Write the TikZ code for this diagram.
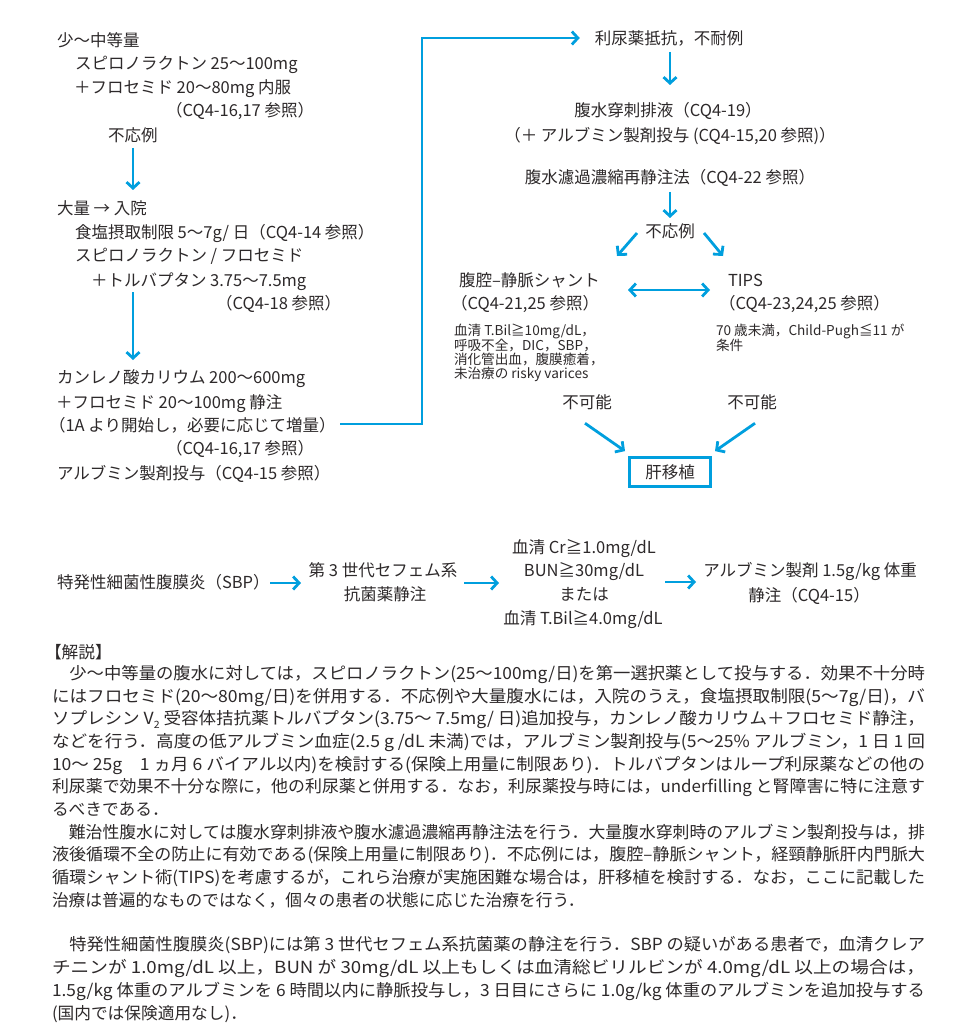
\documentclass[tikz,border=0pt]{standalone}
\usepackage{fontspec}
\setmainfont{Noto Sans CJK JP}
\usepackage{graphicx}
\usetikzlibrary{arrows.meta}
\definecolor{fcblue}{RGB}{0,159,222}
\definecolor{ink}{RGB}{45,41,42}
\newcommand\fmain{\fontsize{16.5}{22}\selectfont}
\newcommand\fsml{\fontsize{13.6}{14.5}\selectfont}
\newcommand\fexp{\fontsize{16.7}{22.7}\selectfont}
\newcommand\jline[1]{\resizebox{873pt}{\height}{#1}}
\newcommand\subtwo{\raisebox{-0.25em}{\fontsize{10}{10}\selectfont 2}}
\tikzset{
  txt/.style={inner sep=0pt, outer sep=0pt, text=ink, font=\fmain, text height=14.5pt, text depth=2pt},
  sml/.style={inner sep=0pt, outer sep=0pt, text=ink, font=\fsml, text height=12pt, text depth=1.6pt},
  exl/.style={inner sep=0pt, outer sep=0pt, text=ink, font=\fexp, text height=14.7pt, text depth=2pt, anchor=west},
  arr/.style={draw=fcblue, line width=2.8pt, -{Straight Barb[length=6pt,width=13pt]}},
  darr/.style={draw=fcblue, line width=2.8pt, {Straight Barb[length=6pt,width=13pt]}-{Straight Barb[length=6pt,width=13pt]}},
  conn/.style={draw=fcblue, line width=2.8pt},
  endbox/.style={draw=fcblue, line width=2.8pt, inner sep=0pt, minimum width=81pt, minimum height=29pt, text=ink, font=\fmain}
}
\begin{document}
\begin{tikzpicture}[x=1pt,y=-1pt]
\fill[white] (0,0) rectangle (963,1024);
\useasboundingbox (0,0) rectangle (963,1024);

% ---------- left column ----------
\node[txt,anchor=west] (a1) at (57,40) {少～中等量};
\node[txt,anchor=west] (a2) at (75,63) {スピロノラクトン 25～100mg};
\node[txt,anchor=west] (a3) at (74,87) {＋フロセミド 20～80mg 内服};
\node[txt,anchor=west] (a4) at (166,110) {（CQ4-16,17 参照）};
\node[txt,anchor=west] (a5) at (108,135) {不応例};

\node[txt,anchor=west] (b1) at (57,208) {大量 → 入院};
\node[txt,anchor=west] (b2) at (75,232) {食塩摂取制限 5～7g/ 日（CQ4-14 参照）};
\node[txt,anchor=west] (b3) at (75,255) {スピロノラクトン / フロセミド};
\node[txt,anchor=west] (b4) at (91,280) {＋トルバプタン 3.75～7.5mg};
\node[txt,anchor=west] (b5) at (216,303) {（CQ4-18 参照）};

\node[txt,anchor=west] (c1) at (57,377) {カンレノ酸カリウム 200～600mg};
\node[txt,anchor=west] (c2) at (56,402) {＋フロセミド 20～100mg 静注};
\node[txt,anchor=west] (c3) at (49,425) {（1A より開始し，必要に応じて増量）};
\node[txt,anchor=west] (c4) at (166,448) {（CQ4-16,17 参照）};
\node[txt,anchor=west] (c5) at (57,473) {アルブミン製剤投与（CQ4-15 参照）};

\coordinate (arAs) at (133,148);
\coordinate (arAe) at (133,190);
\draw[arr] (arAs) -- (arAe);
\coordinate (arBs) at (133,292);
\coordinate (arBe) at (133,360);
\draw[arr] (arBs) -- (arBe);

% ---------- right column ----------
\node[txt] (r1) at (669,38) {利尿薬抵抗，不耐例};
\node[txt] (r2) at (668,110) {腹水穿刺排液（CQ4-19）};
\node[txt] (r3) at (670,135) {（＋ アルブミン製剤投与 (CQ4-15,20 参照)）};
\node[txt] (r4) at (670,177) {腹水濾過濃縮再静注法（CQ4-22 参照）};
\node[txt] (r5) at (670,231) {不応例};

\coordinate (cst) at (340,424);
\coordinate (ccor) at (422,424);
\coordinate (ctop) at (422,38);
\draw[conn, line join=miter] (cst) -- (ccor) -- (ctop) -- ([xshift=-20pt]r1.west);
\draw[arr] ([xshift=-40pt]r1.west) -- ([xshift=-15pt]r1.west);

\coordinate (ar1s) at (670,52);
\coordinate (ar1e) at (670,85);
\draw[arr] (ar1s) -- (ar1e);
\coordinate (ar2s) at (670,192);
\coordinate (ar2e) at (670,218);
\draw[arr] (ar2s) -- (ar2e);

\node[txt,anchor=west] (p1) at (459,280) {腹腔–静脈シャント};
\node[txt,anchor=west] (p2) at (451,303) {（CQ4-21,25 参照）};
\node[sml,anchor=west] (p3) at (454,330) {血清 T.Bil≧10mg/dL，};
\node[sml,anchor=west] (p4) at (454,345) {呼吸不全，DIC，SBP，};
\node[sml,anchor=west] (p5) at (454,359) {消化管出血，腹膜癒着，};
\node[sml,anchor=west] (p6) at (454,373) {未治療の risky varices};

\node[txt,anchor=west] (t1) at (728,280) {TIPS};
\node[txt,anchor=west] (t2) at (719,303) {（CQ4-23,24,25 参照）};
\node[sml,anchor=west] (t3) at (716,330) {70 歳未満，Child-Pugh≦11 が};
\node[sml,anchor=west] (t4) at (716,345) {条件};

\coordinate (dl1) at (637,233);
\coordinate (dl2) at (617,256);
\draw[arr] (dl1) -- (dl2);
\coordinate (dr1) at (704,233);
\coordinate (dr2) at (723,256);
\draw[arr] (dr1) -- (dr2);

\coordinate (hl) at (628,290);
\coordinate (hr) at (710,290);
\draw[darr] (hl) -- (hr);

\node[txt] (n1) at (587,402) {不可能};
\node[txt] (n2) at (752,402) {不可能};
\node[endbox] (lt) at (670,472) {肝移植};
\draw[arr] ([xshift=-2pt,yshift=-13pt]n1.south) -- ([xshift=-45pt,yshift=5pt]lt.north);
\draw[arr] ([xshift=3pt,yshift=-13pt]n2.south) -- ([xshift=45pt,yshift=5pt]lt.north);

% ---------- SBP row ----------
\node[txt,anchor=west] (s1) at (57,582) {特発性細菌性腹膜炎（SBP）};
\node[txt] (s2) at (383,570) {第 3 世代セフェム系};
\node[txt] (s3) at (385,594) {抗菌薬静注};
\node[txt] (m1) at (584,547) {血清 Cr≧1.0mg/dL};
\node[txt] (m2) at (584,570) {BUN≧30mg/dL};
\node[txt] (m3) at (584,594) {または};
\node[txt] (m4) at (583,618) {血清 T.Bil≧4.0mg/dL};
\node[txt] (e1) at (810,570) {アルブミン製剤 1.5g/kg 体重};
\node[txt] (e2) at (809,595) {静注（CQ4-15）};

\coordinate (sa1) at (270,583);
\coordinate (sa2) at (301,583);
\draw[arr] (sa1) -- (sa2);
\coordinate (sb1) at (464,583);
\coordinate (sb2) at (499,583);
\draw[arr] (sb1) -- (sb2);
\coordinate (sc1) at (665,582);
\coordinate (sc2) at (696,582);
\draw[arr] (sc1) -- (sc2);

% ---------- explanation ----------
\node[exl] (h0) at (45,652) {【解説】};
\node[exl] (x1) at (52,673.0) {\jline{　少～中等量の腹水に対しては，スピロノラクトン(25～100mg/日)を第一選択薬として投与する．効果不十分時}};
\node[exl] (x2) at (52,695.7) {\jline{にはフロセミド(20～80mg/日)を併用する．不応例や大量腹水には，入院のうえ，食塩摂取制限(5～7g/日)，バ}};
\node[exl] (x3) at (52,718.4) {\jline{ソプレシン V\subtwo\ 受容体拮抗薬トルバプタン(3.75～ 7.5mg/ 日)追加投与，カンレノ酸カリウム＋フロセミド静注，}};
\node[exl] (x4) at (52,741.1) {\jline{などを行う．高度の低アルブミン血症(2.5 g /dL 未満)では，アルブミン製剤投与(5～25\% アルブミン，1 日 1 回}};
\node[exl] (x5) at (52,763.8) {\jline{10～ 25g　1 ヵ月 6 バイアル以内)を検討する(保険上用量に制限あり)．トルバプタンはループ利尿薬などの他の}};
\node[exl] (x6) at (52,786.5) {\jline{利尿薬で効果不十分な際に，他の利尿薬と併用する．なお，利尿薬投与時には，underfilling と腎障害に特に注意す}};
\node[exl] (x7) at (52,809.2) {るべきである．};
\node[exl] (x8) at (52,831.9) {\jline{　難治性腹水に対しては腹水穿刺排液や腹水濾過濃縮再静注法を行う．大量腹水穿刺時のアルブミン製剤投与は，排}};
\node[exl] (x9) at (52,854.6) {\jline{液後循環不全の防止に有効である(保険上用量に制限あり)．不応例には，腹腔–静脈シャント，経頸静脈肝内門脈大}};
\node[exl] (x10) at (52,877.3) {\jline{循環シャント術(TIPS)を考慮するが，これら治療が実施困難な場合は，肝移植を検討する．なお，ここに記載した}};
\node[exl] (x11) at (52,900.0) {治療は普遍的なものではなく，個々の患者の状態に応じた治療を行う．};
\node[exl] (x12) at (52,944.0) {\jline{　特発性細菌性腹膜炎(SBP)には第 3 世代セフェム系抗菌薬の静注を行う．SBP の疑いがある患者で，血清クレア}};
\node[exl] (x13) at (52,967.0) {\jline{チニンが 1.0mg/dL 以上，BUN が 30mg/dL 以上もしくは血清総ビリルビンが 4.0mg/dL 以上の場合は，}};
\node[exl] (x14) at (52,990.0) {\jline{1.5g/kg 体重のアルブミンを 6 時間以内に静脈投与し，3 日目にさらに 1.0g/kg 体重のアルブミンを追加投与する}};
\node[exl] (x15) at (52,1013.0) {(国内では保険適用なし)．};
\end{tikzpicture}
\end{document}
